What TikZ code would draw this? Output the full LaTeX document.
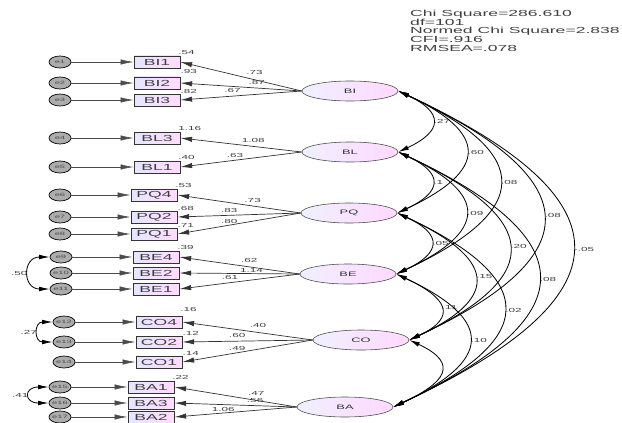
\documentclass[tikz,border=0pt]{standalone}
\usepackage{fontspec}
\setmainfont[FakeStretch=2]{Liberation Sans}
\usepackage{tikz}
\usetikzlibrary{shapes.geometric, arrows.meta, positioning}

\begin{document}
\begin{tikzpicture}[x=0.03cm, y=-0.03cm,
  ind/.style={draw, line width=0.7pt, draw=black!80, left color=blue!10, right color=magenta!14, minimum width=1.38cm, minimum height=0.36cm, inner sep=0pt, font=\fontsize{7.5}{7.5}\selectfont, text=black!75},
  lat/.style={ellipse, draw, line width=0.5pt, draw=black!70, left color=blue!6, right color=magenta!15, minimum width=2.88cm, minimum height=0.6cm, inner sep=0pt, font=\fontsize{5.5}{5.5}\selectfont, text=black!80},
  err/.style={ellipse, draw, line width=0.6pt, fill=gray!65, minimum width=0.66cm, minimum height=0.36cm, inner sep=0pt, font=\fontsize{4}{4}\selectfont, text=black!70},
  lbl/.style={font=\fontsize{5}{5}\selectfont, inner sep=1pt, text=black!75},
  load/.style={-{Latex[length=10pt,width=4.5pt]}, line width=0.6pt, black!80},
  eline/.style={-{Latex[length=11pt,width=4.5pt]}, line width=0.5pt, black!70},
  cov/.style={{Latex[length=9pt,width=4pt]}-{Latex[length=9pt,width=4pt]}, line width=0.7pt}]

  \useasboundingbox (0,0) rectangle (622,422);

  % Fit indices
  \node (fit) [anchor=north west, align=left, inner sep=0pt, text=black!75, font=\fontsize{7.5}{7.4}\selectfont] at (410,10) {Chi Square=286.610\\df=101\\Normed Chi Square=2.838\\CFI=.916\\RMSEA=.078};

  % Latent variables
  \node (bi) [lat] at (350,91) {BI};
  \node (bl) [lat] at (350,152) {BL};
  \node (pq) [lat] at (349,213) {PQ};
  \node (be) [lat] at (348,274) {BE};
  \node (co) [lat] at (361,340) {CO};
  \node (ba) [lat] at (345,407) {BA};

  % Indicators
  \node (bi1) [ind] at (157,62) {BI1};
  \node (bi2) [ind] at (157,83) {BI2};
  \node (bi3) [ind] at (157,100) {BI3};
  \node (bl3) [ind] at (157,138) {BL3};
  \node (bl1) [ind] at (157,167) {BL1};
  \node (pq4) [ind] at (154,195) {PQ4};
  \node (pq2) [ind] at (154,217) {PQ2};
  \node (pq1) [ind] at (154,234) {PQ1};
  \node (be4) [ind] at (156,257) {BE4};
  \node (be2) [ind] at (156,273) {BE2};
  \node (be1) [ind] at (156,289) {BE1};
  \node (co4) [ind] at (159,322) {CO4};
  \node (co2) [ind] at (159,342) {CO2};
  \node (co1) [ind] at (159,362) {CO1};
  \node (ba1) [ind] at (151,387) {BA1};
  \node (ba3) [ind] at (151,403) {BA3};
  \node (ba2) [ind] at (151,417) {BA2};

  % Errors
  \node (e1) [err] at (60,62) {e1};
  \node (e2) [err] at (60,83) {e2};
  \node (e3) [err] at (60,100) {e3};
  \node (e4) [err] at (60,138) {e4};
  \node (e5) [err] at (60,167) {e5};
  \node (e6) [err] at (60,195) {e6};
  \node (e7) [err] at (60,217) {e7};
  \node (e8) [err] at (60,234) {e8};
  \node (e9) [err] at (61,257) {e9};
  \node (e10) [err] at (61,273) {e10};
  \node (e11) [err] at (61,289) {e11};
  \node (e12) [err] at (64,322) {e12};
  \node (e13) [err] at (64,342) {e13};
  \node (e14) [err] at (64,362) {e14};
  \node (e15) [err] at (60,387) {e15};
  \node (e16) [err] at (60,403) {e16};
  \node (e17) [err] at (60,417) {e17};

  \foreach \e/\m in {e1/bi1, e2/bi2, e3/bi3, e4/bl3, e5/bl1, e6/pq4, e7/pq2, e8/pq1, e9/be4, e10/be2, e11/be1, e12/co4, e13/co2, e14/co1, e15/ba1, e16/ba3, e17/ba2}
    \draw[eline] (\e.east) -- (\m.west);

  % Loadings
  \draw[load] (bi.west) -- node[lbl, pos=0.39, above=3pt] {.73} (bi1.east);
  \draw[load] (bi.west) -- node[lbl, pos=0.37, above=2pt] {.87} (bi2.east);
  \draw[load] (bi.west) -- node[lbl, pos=0.57, above=2pt] {.67} (bi3.east);
  \draw[load] (bl.west) -- node[lbl, pos=0.40, above=2pt] {1.08} (bl3.east);
  \draw[load] (bl.west) -- node[lbl, pos=0.55, above=1pt] {.63} (bl1.east);
  \draw[load] (pq.west) -- node[lbl, pos=0.39, above=2pt] {.73} (pq4.east);
  \draw[load] (pq.west) -- node[lbl, pos=0.58, above=1pt] {.83} (pq2.east);
  \draw[load] (pq.west) -- node[lbl, pos=0.58, above=0pt] {.80} (pq1.east);
  \draw[load] (be.west) -- node[lbl, pos=0.42, above=2pt] {.62} (be4.east);
  \draw[load] (be.west) -- node[lbl, pos=0.40, above=0pt] {1.14} (be2.east);
  \draw[load] (be.west) -- node[lbl, pos=0.58, above=1pt] {.61} (be1.east);
  \draw[load] (co.west) -- node[lbl, pos=0.42, above=3pt] {.40} (co4.east);
  \draw[load] (co.west) -- node[lbl, pos=0.58, above=2pt] {.60} (co2.east);
  \draw[load] (co.west) -- node[lbl, pos=0.58, above=1pt] {.49} (co1.east);
  \draw[load] (ba.west) -- node[lbl, pos=0.33, above=3pt] {.47} (ba1.east);
  \draw[load] (ba.west) -- node[lbl, pos=0.34, above=1pt] {.56} (ba3.east);
  \draw[load] (ba.west) -- node[lbl, pos=0.60, above=0pt] {1.06} (ba2.east);

  % Squared multiple correlations
  \node (r-bi1) [lbl, anchor=south west, xshift=-3pt] at (bi1.north east) {.54};
  \node (r-bi2) [lbl, anchor=south west, xshift=-1pt, yshift=1pt] at (bi2.north east) {.93};
  \node (r-bi3) [lbl, anchor=south west, xshift=-1pt, yshift=-1pt] at (bi3.north east) {.82};
  \node (r-bl3) [lbl, anchor=south west, xshift=-3pt] at (bl3.north east) {1.16};
  \node (r-bl1) [lbl, anchor=south west, xshift=-3pt] at (bl1.north east) {.40};
  \node (r-pq4) [lbl, anchor=south west, xshift=-3pt] at (pq4.north east) {.53};
  \node (r-pq2) [lbl, anchor=south west, xshift=-1pt, yshift=-1pt] at (pq2.north east) {.68};
  \node (r-pq1) [lbl, anchor=south west, xshift=-1pt, yshift=-1pt] at (pq1.north east) {.71};
  \node (r-be4) [lbl, anchor=south west, xshift=-3pt] at (be4.north east) {.39};
  \node (r-co4) [lbl, anchor=south west, xshift=-3pt, yshift=2pt] at (co4.north east) {.16};
  \node (r-co2) [lbl, anchor=south west, xshift=-1pt, yshift=-1pt] at (co2.north east) {.12};
  \node (r-co1) [lbl, anchor=south west, xshift=-1pt, yshift=-1pt] at (co1.north east) {.14};
  \node (r-ba1) [lbl, anchor=south west, xshift=-3pt] at (ba1.north east) {.22};

  % Covariances between latents
  \draw[cov] (bi.east) to[out=-25, in=25, looseness=2.1] node[lbl, right] {.27} (bl.east);
  \draw[cov] (bi.east) to[out=-25, in=25, looseness=2.1] node[lbl, right] {.60} (pq.east);
  \draw[cov] (bi.east) to[out=-25, in=25, looseness=2.1] node[lbl, right] {.08} (be.east);
  \draw[cov] (bi.east) to[out=-25, in=25, looseness=2.1] node[lbl, right] {.08} (co.east);
  \draw[cov] (bi.east) to[out=-25, in=25, looseness=2.1] node[lbl, right] {-.05} (ba.east);
  \draw[cov] (bl.east) to[out=-25, in=25, looseness=2.1] node[lbl, right] {.1} (pq.east);
  \draw[cov] (bl.east) to[out=-25, in=25, looseness=2.1] node[lbl, right] {.09} (be.east);
  \draw[cov] (bl.east) to[out=-25, in=25, looseness=2.1] node[lbl, right] {.20} (co.east);
  \draw[cov] (bl.east) to[out=-25, in=25, looseness=2.1] node[lbl, right] {.08} (ba.east);
  \draw[cov] (pq.east) to[out=-25, in=25, looseness=2.1] node[lbl, right] {.05} (be.east);
  \draw[cov] (pq.east) to[out=-25, in=25, looseness=2.1] node[lbl, right] {.15} (co.east);
  \draw[cov] (pq.east) to[out=-25, in=25, looseness=2.1] node[lbl, right] {.02} (ba.east);
  \draw[cov] (be.east) to[out=-25, in=25, looseness=2.1] node[lbl, right] {.11} (co.east);
  \draw[cov] (be.east) to[out=-25, in=25, looseness=2.1] node[lbl, right] {.10} (ba.east);
  \draw[cov] (co.east) to[out=-25, in=25, looseness=2.1] (ba.east);

  % Error covariances
  \draw[cov] (e9.west) to[out=180, in=180, looseness=2.2] node[lbl, left] {.50} (e11.west);
  \draw[cov] (e12.west) to[out=180, in=180, looseness=2.4] node[lbl, left] {.27} (e13.west);
  \draw[cov] (e15.west) to[out=180, in=180, looseness=4] node[lbl, left] {.41} (e16.west);

\end{tikzpicture}
\end{document}
